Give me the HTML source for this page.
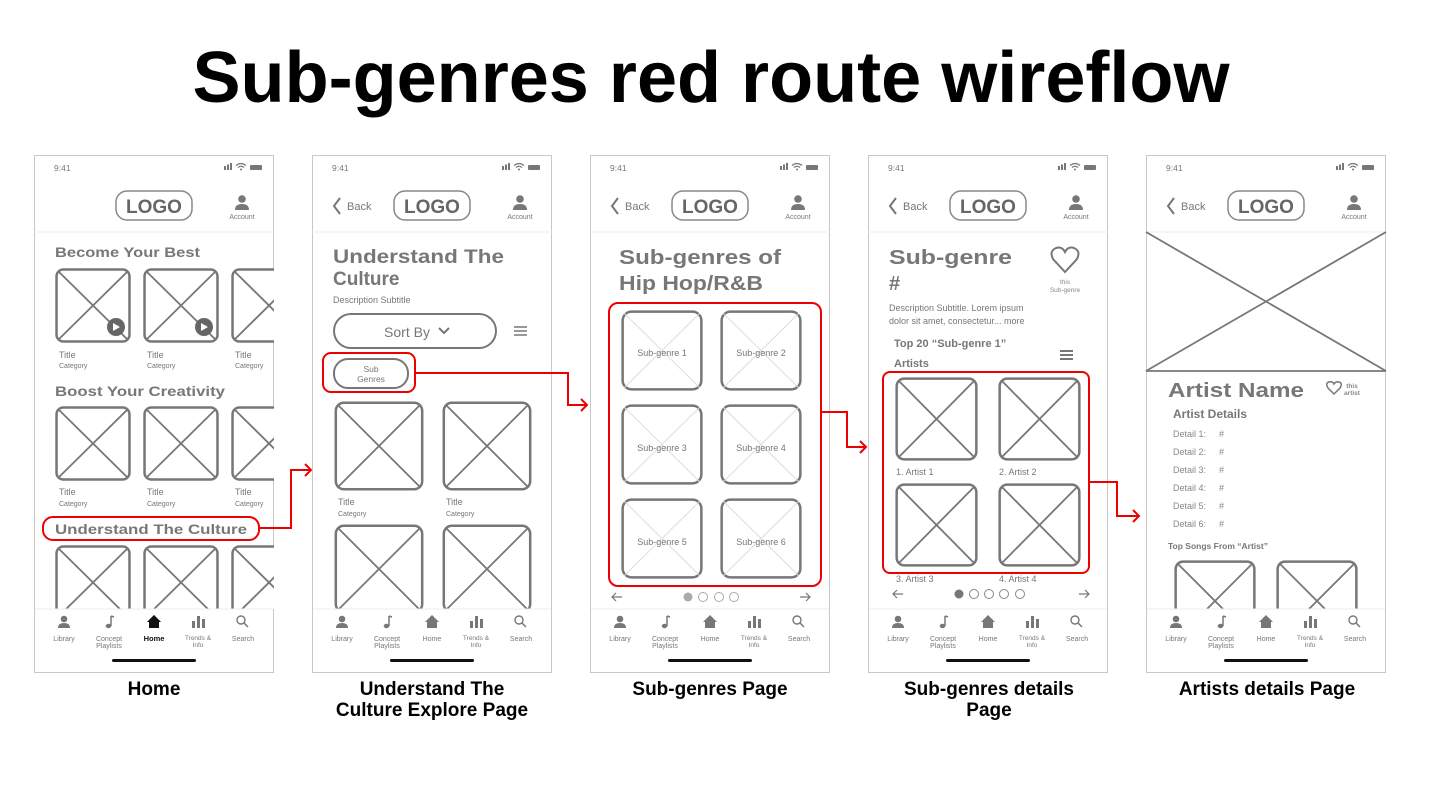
<!DOCTYPE html>
<html><head><meta charset="utf-8"><style>
html,body{margin:0;padding:0;background:#fff;}
svg{display:block;}
text{font-family:"Liberation Sans",sans-serif;}
</style></head><body>
<svg width="1439" height="791" viewBox="0 0 1439 791" xmlns="http://www.w3.org/2000/svg">
<defs>
  <symbol id="tile" viewBox="0 0 100 100" preserveAspectRatio="none">
    <rect x="2" y="2" width="96" height="96" rx="9" fill="#fff" stroke="#777" stroke-width="2.5" vector-effect="non-scaling-stroke"/>
    <line x1="4" y1="4" x2="96" y2="96" stroke="#777" stroke-width="1.8" vector-effect="non-scaling-stroke"/>
    <line x1="96" y1="4" x2="4" y2="96" stroke="#777" stroke-width="1.8" vector-effect="non-scaling-stroke"/>
  </symbol>
  <symbol id="ltile" viewBox="0 0 100 100" preserveAspectRatio="none">
    <rect x="2" y="2" width="96" height="96" rx="11" fill="#fff" stroke="#777" stroke-width="2.5" vector-effect="non-scaling-stroke"/>
    <line x1="4" y1="4" x2="96" y2="96" stroke="#ddd" stroke-width="1" vector-effect="non-scaling-stroke"/>
    <line x1="96" y1="4" x2="4" y2="96" stroke="#ddd" stroke-width="1" vector-effect="non-scaling-stroke"/>
  </symbol>
  <clipPath id="pc"><rect x="0" y="77" width="240" height="377"/></clipPath>
  <g id="frame">
    <rect x="0.5" y="0.5" width="239" height="517" fill="#fff" stroke="#c8c8c8"/>
    <text x="20" y="16" font-size="8.5" fill="#777">9:41</text>
    <rect x="190" y="11" width="2" height="4" fill="#777"/><rect x="193" y="9.5" width="2" height="5.5" fill="#777"/><rect x="196" y="8" width="2" height="7" fill="#777"/>
    <path d="M202 10.5 Q207 6.5 212 10.5 M204 12.5 Q207 10 210 12.5" stroke="#777" stroke-width="1.3" fill="none"/><circle cx="207" cy="14.5" r="1" fill="#777"/>
    <rect x="216" y="10" width="12" height="5" rx="1" fill="#777"/>
    <rect x="82" y="36" width="76" height="29" rx="11" fill="#fff" stroke="#888" stroke-width="1.5"/>
    <text x="120" y="58" font-size="19" font-weight="bold" fill="#666" text-anchor="middle">LOGO</text>
    <circle cx="208" cy="44" r="3.8" fill="#777"/>
    <path d="M201 55 Q201 49 208 49 Q215 49 215 55 Z" fill="#777"/>
    <text x="208" y="64" font-size="7" fill="#777" text-anchor="middle">Account</text>
    <line x1="0" y1="77" x2="240" y2="77" stroke="#eee"/>
  </g>
  <g id="nav">
    <rect x="1" y="454" width="238" height="63" fill="#fff"/>
    <line x1="1" y1="454" x2="239" y2="454" stroke="#eee"/>
    <circle cx="30" cy="464" r="3.3" fill="#777"/><path d="M24 473 Q24 468 30 468 Q36 468 36 473 Z" fill="#777"/>
    <text x="30" y="486" font-size="7" fill="#777" text-anchor="middle">Library</text>
    <path d="M77 461 L77 471" stroke="#777" stroke-width="1.5"/><ellipse cx="74.5" cy="471" rx="2.8" ry="2.2" fill="#777"/><path d="M77 461 L80 462" stroke="#777" stroke-width="1.5"/>
    <text x="75" y="486" font-size="7" fill="#777" text-anchor="middle">Concept</text>
    <text x="75" y="493" font-size="7" fill="#777" text-anchor="middle">Playlists</text>
    <path d="M113 467 L120 460 L127 467 L125 467 L125 473 L115 473 L115 467 Z" fill="#777"/>
    <rect x="158" y="466" width="3" height="7" fill="#777"/><rect x="163" y="461" width="3" height="12" fill="#777"/><rect x="168" y="464" width="3" height="9" fill="#777"/>
    <text x="164" y="485" font-size="6.5" fill="#777" text-anchor="middle">Trends &amp;</text>
    <text x="164" y="492" font-size="6.5" fill="#777" text-anchor="middle">Info</text>
    <circle cx="207" cy="465" r="4" fill="none" stroke="#777" stroke-width="1.4"/><path d="M210 468 L214 472" stroke="#777" stroke-width="1.5"/>
    <text x="209" y="486" font-size="7" fill="#777" text-anchor="middle">Search</text>
    <rect x="78" y="504" width="84" height="3" rx="1.5" fill="#111"/>
  </g>
  <g id="back">
    <path d="M28 43 L22 51 L28 59" stroke="#777" stroke-width="2" fill="none"/>
    <text x="35" y="55" font-size="11" fill="#777">Back</text>
  </g>
</defs>

<text x="711" y="102" font-size="72" font-weight="bold" fill="#000" text-anchor="middle" textLength="1037" lengthAdjust="spacingAndGlyphs">Sub-genres red route wireflow</text>

<!-- Phone 1 -->
<g transform="translate(34,155)">
  <use href="#frame"/>
  <g clip-path="url(#pc)" fill="#777">
    <text x="21" y="102" font-size="14" font-weight="bold" fill="#777" textLength="145" lengthAdjust="spacingAndGlyphs">Become Your Best</text>
    <use href="#tile" x="21" y="113" width="76" height="75"/>
    <use href="#tile" x="109" y="113" width="76" height="75"/>
    <use href="#tile" x="197" y="113" width="76" height="75"/>
    <circle cx="82" cy="172" r="9" fill="#666"/><circle cx="170" cy="172" r="9" fill="#666"/>
    <path d="M79 168 L86 172 L79 176 Z" fill="#fff"/><path d="M167 168 L174 172 L167 176 Z" fill="#fff"/>
    <text x="25" y="203" font-size="9" fill="#777">Title</text><text x="25" y="213" font-size="7" fill="#777">Category</text>
    <text x="113" y="203" font-size="9" fill="#777">Title</text><text x="113" y="213" font-size="7" fill="#777">Category</text>
    <text x="201" y="203" font-size="9" fill="#777">Title</text><text x="201" y="213" font-size="7" fill="#777">Category</text>
    <text x="21" y="241" font-size="14" font-weight="bold" fill="#777" textLength="170" lengthAdjust="spacingAndGlyphs">Boost Your Creativity</text>
    <use href="#tile" x="21" y="251" width="76" height="75"/>
    <use href="#tile" x="109" y="251" width="76" height="75"/>
    <use href="#tile" x="197" y="251" width="76" height="75"/>
    <text x="25" y="340" font-size="9" fill="#777">Title</text><text x="25" y="351" font-size="7" fill="#777">Category</text>
    <text x="113" y="340" font-size="9" fill="#777">Title</text><text x="113" y="351" font-size="7" fill="#777">Category</text>
    <text x="201" y="340" font-size="9" fill="#777">Title</text><text x="201" y="351" font-size="7" fill="#777">Category</text>
    <text x="21" y="379" font-size="14" font-weight="bold" fill="#777" textLength="192" lengthAdjust="spacingAndGlyphs">Understand The Culture</text>
    <use href="#tile" x="21" y="390" width="76" height="75"/>
    <use href="#tile" x="109" y="390" width="76" height="75"/>
    <use href="#tile" x="197" y="390" width="76" height="75"/>
  </g>
  <rect x="9" y="362" width="216" height="23" rx="10" fill="none" stroke="#e00" stroke-width="2"/>
  <use href="#nav"/>
  <path d="M113 467 L120 460 L127 467 L125 467 L125 473 L115 473 L115 467 Z" fill="#111"/>
  <text x="120" y="486" font-size="7.5" font-weight="bold" fill="#111" text-anchor="middle">Home</text>
</g>

<!-- Phone 2 -->
<g transform="translate(312,155)">
  <use href="#frame"/><use href="#back"/>
  <g clip-path="url(#pc)">
    <text x="21" y="108" font-size="19" font-weight="bold" fill="#777" textLength="171" lengthAdjust="spacingAndGlyphs">Understand The</text>
    <text x="21" y="130" font-size="19" font-weight="bold" fill="#777">Culture</text>
    <text x="21" y="148" font-size="9" fill="#777">Description Subtitle</text>
    <rect x="22" y="159" width="162" height="34" rx="17" fill="none" stroke="#777" stroke-width="2"/>
    <text x="95" y="182" font-size="14" fill="#777" text-anchor="middle">Sort By</text>
    <path d="M127 173 L132 178 L137 173" stroke="#777" stroke-width="2" fill="none"/>
    <g stroke="#777" stroke-width="1.5"><line x1="202" y1="172" x2="215" y2="172"/><line x1="202" y1="176" x2="215" y2="176"/><line x1="202" y1="180" x2="215" y2="180"/></g>
    <rect x="22" y="204" width="74" height="29" rx="14" fill="none" stroke="#777" stroke-width="2"/>
    <text x="59" y="217" font-size="8.5" fill="#777" text-anchor="middle">Sub</text>
    <text x="59" y="227" font-size="8.5" fill="#777" text-anchor="middle">Genres</text>
    <use href="#tile" x="22" y="246" width="90" height="90"/>
    <use href="#tile" x="130" y="246" width="90" height="90"/>
    <text x="26" y="350" font-size="9" fill="#777">Title</text><text x="26" y="361" font-size="7" fill="#777">Category</text>
    <text x="134" y="350" font-size="9" fill="#777">Title</text><text x="134" y="361" font-size="7" fill="#777">Category</text>
    <use href="#tile" x="22" y="369" width="90" height="90"/>
    <use href="#tile" x="130" y="369" width="90" height="90"/>
  </g>
  <rect x="11" y="198" width="92" height="39" rx="8" fill="none" stroke="#e00" stroke-width="2"/>
  <use href="#nav"/>
  <text x="120" y="486" font-size="7" fill="#777" text-anchor="middle">Home</text>
</g>

<!-- Phone 3 -->
<g transform="translate(590,155)">
  <use href="#frame"/><use href="#back"/>
  <text x="29" y="109" font-size="20" font-weight="bold" fill="#777" textLength="162" lengthAdjust="spacingAndGlyphs">Sub-genres of</text>
  <text x="29" y="135" font-size="20" font-weight="bold" fill="#777" textLength="144" lengthAdjust="spacingAndGlyphs">Hip Hop/R&amp;B</text>
  <use href="#ltile" x="31" y="155" width="82" height="81"/>
  <use href="#ltile" x="130" y="155" width="82" height="81"/>
  <use href="#ltile" x="31" y="249" width="82" height="81"/>
  <use href="#ltile" x="130" y="249" width="82" height="81"/>
  <use href="#ltile" x="31" y="343" width="82" height="81"/>
  <use href="#ltile" x="130" y="343" width="82" height="81"/>
  <g font-size="9" fill="#777" text-anchor="middle">
    <text x="72" y="201">Sub-genre 1</text><text x="171" y="201">Sub-genre 2</text>
    <text x="72" y="296">Sub-genre 3</text><text x="171" y="296">Sub-genre 4</text>
    <text x="72" y="390">Sub-genre 5</text><text x="171" y="390">Sub-genre 6</text>
  </g>
  <rect x="19" y="148" width="212" height="283" rx="9" fill="none" stroke="#e00" stroke-width="2"/>
  <path d="M32 442 L22 442 M26 438 L22 442 L26 446" stroke="#777" stroke-width="1.2" fill="none"/>
  <path d="M210 442 L220 442 M216 438 L220 442 L216 446" stroke="#777" stroke-width="1.2" fill="none"/>
  <circle cx="98" cy="442" r="4.5" fill="#aaa"/>
  <circle cx="113" cy="442" r="4.5" fill="none" stroke="#aaa"/><circle cx="129" cy="442" r="4.5" fill="none" stroke="#aaa"/><circle cx="144" cy="442" r="4.5" fill="none" stroke="#aaa"/>
  <use href="#nav"/>
  <text x="120" y="486" font-size="7" fill="#777" text-anchor="middle">Home</text>
</g>

<!-- Phone 4 -->
<g transform="translate(868,155)">
  <use href="#frame"/><use href="#back"/>
  <text x="21" y="109" font-size="20" font-weight="bold" fill="#777" textLength="123" lengthAdjust="spacingAndGlyphs">Sub-genre</text>
  <text x="21" y="135" font-size="20" font-weight="bold" fill="#777">#</text>
  <path d="M197 117 L185 104 Q181 96 188 93 Q194 91 197 97 Q200 91 206 93 Q213 96 209 104 Z" fill="none" stroke="#777" stroke-width="2"/>
  <text x="197" y="129" font-size="6.5" fill="#888" text-anchor="middle">this</text>
  <text x="197" y="137" font-size="6.5" fill="#888" text-anchor="middle">Sub-genre</text>
  <text x="21" y="156" font-size="9" fill="#777">Description Subtitle. Lorem ipsum</text>
  <text x="21" y="169" font-size="9" fill="#777">dolor sit amet, consectetur... more</text>
  <text x="26" y="192" font-size="11" font-weight="bold" fill="#777">Top 20 “Sub-genre 1”</text>
  <text x="26" y="212" font-size="11" font-weight="bold" fill="#777">Artists</text>
  <g stroke="#777" stroke-width="2"><line x1="192" y1="196" x2="205" y2="196"/><line x1="192" y1="200" x2="205" y2="200"/><line x1="192" y1="204" x2="205" y2="204"/></g>
  <use href="#tile" x="27" y="222" width="83" height="84"/>
  <use href="#tile" x="130" y="222" width="83" height="84"/>
  <text x="28" y="320" font-size="9" fill="#777">1. Artist 1</text><text x="131" y="320" font-size="9" fill="#777">2. Artist 2</text>
  <use href="#tile" x="27" y="328" width="83" height="84"/>
  <use href="#tile" x="130" y="328" width="83" height="84"/>
  <text x="28" y="427" font-size="9" fill="#777">3. Artist 3</text><text x="131" y="427" font-size="9" fill="#777">4. Artist 4</text>
  <rect x="15" y="217" width="206" height="201" rx="7" fill="none" stroke="#e00" stroke-width="2"/>
  <path d="M35 439 L25 439 M29 435 L25 439 L29 443" stroke="#777" stroke-width="1.2" fill="none"/>
  <path d="M211 439 L221 439 M217 435 L221 439 L217 443" stroke="#777" stroke-width="1.2" fill="none"/>
  <circle cx="91" cy="439" r="4.5" fill="#777"/>
  <circle cx="106" cy="439" r="4.5" fill="none" stroke="#888"/><circle cx="121" cy="439" r="4.5" fill="none" stroke="#888"/><circle cx="136" cy="439" r="4.5" fill="none" stroke="#888"/><circle cx="152" cy="439" r="4.5" fill="none" stroke="#888"/>
  <use href="#nav"/>
  <text x="120" y="486" font-size="7" fill="#777" text-anchor="middle">Home</text>
</g>

<!-- Phone 5 -->
<g transform="translate(1146,155)">
  <use href="#frame"/><use href="#back"/>
  <g stroke="#777" stroke-width="1.8"><line x1="0" y1="77" x2="240" y2="216"/><line x1="240" y1="77" x2="0" y2="216"/><line x1="0" y1="216" x2="240" y2="216"/></g>
  <g clip-path="url(#pc)">
    <text x="22" y="242" font-size="20" font-weight="bold" fill="#777" textLength="136" lengthAdjust="spacingAndGlyphs">Artist Name</text>
    <path d="M188 239 L182 233 Q179 228 183 227 Q187 226 188 229 Q190 226 193 227 Q197 228 194 233 Z" fill="none" stroke="#777" stroke-width="1.5"/>
    <text x="206" y="233" font-size="6.5" font-weight="bold" fill="#888" text-anchor="middle">this</text>
    <text x="206" y="240" font-size="6.5" font-weight="bold" fill="#888" text-anchor="middle">artist</text>
    <text x="27" y="263" font-size="12" font-weight="bold" fill="#777">Artist Details</text>
    <g font-size="9" fill="#888">
      <text x="27" y="282">Detail 1:</text><text x="73" y="282">#</text>
      <text x="27" y="300">Detail 2:</text><text x="73" y="300">#</text>
      <text x="27" y="318">Detail 3:</text><text x="73" y="318">#</text>
      <text x="27" y="336">Detail 4:</text><text x="73" y="336">#</text>
      <text x="27" y="354">Detail 5:</text><text x="73" y="354">#</text>
      <text x="27" y="372">Detail 6:</text><text x="73" y="372">#</text>
    </g>
    <text x="22" y="394" font-size="8.5" font-weight="bold" fill="#777">Top Songs From “Artist”</text>
    <use href="#tile" x="28" y="405" width="82" height="82"/>
    <use href="#tile" x="130" y="405" width="82" height="82"/>
  </g>
  <use href="#nav"/>
  <text x="120" y="486" font-size="7" fill="#777" text-anchor="middle">Home</text>
</g>

<!-- Connectors -->
<g stroke="#e00" stroke-width="2" fill="none">
  <path d="M259 528 L291 528 L291 470 L311 470"/><path d="M305 464 L311 470 L305 476"/>
  <path d="M415 373 L568 373 L568 405 L587 405"/><path d="M581 399 L587 405 L581 411"/>
  <path d="M821 412 L847 412 L847 447 L866 447"/><path d="M860 441 L866 447 L860 453"/>
  <path d="M1089 482 L1117 482 L1117 516 L1139 516"/><path d="M1133 510 L1139 516 L1133 522"/>
</g>

<!-- Labels -->
<g font-size="19" font-weight="bold" fill="#000" text-anchor="middle">
  <text x="154" y="695">Home</text>
  <text x="432" y="695">Understand The</text>
  <text x="432" y="716">Culture Explore Page</text>
  <text x="710" y="695">Sub-genres Page</text>
  <text x="989" y="695">Sub-genres details</text>
  <text x="989" y="716">Page</text>
  <text x="1267" y="695">Artists details Page</text>
</g>
</svg>
</body></html>
